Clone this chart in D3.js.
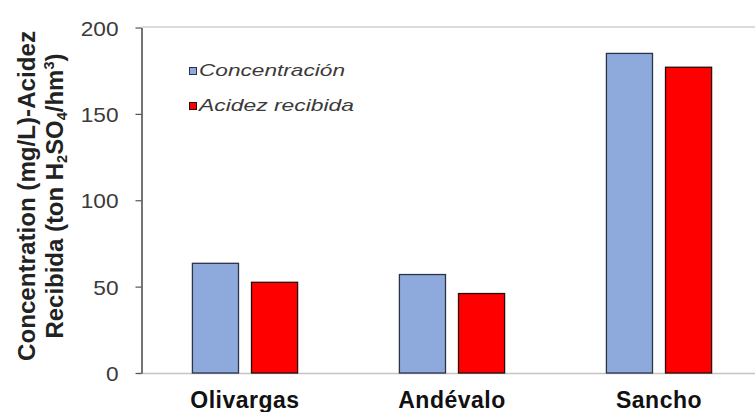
<!DOCTYPE html>
<html>
<head>
<meta charset="utf-8">
<script src="https://cdn.jsdelivr.net/npm/d3@7"></script>
<style>
  html, body { margin: 0; padding: 0; background: #fff; }
  svg { display: block; }
</style>
</head>
<body>
<svg id="chart" width="755" height="412"></svg>
<script>
// ---- data ----
const categories = ["Olivargas", "Andévalo", "Sancho"];
const seriesNames = ["Concentración", "Acidez recibida"];
const concentracion = [63.5, 57, 185];
const acidez = [52.5, 46, 177];
const yTicks = [0, 50, 100, 150, 200];
const yTitle1 = "Concentration (mg/L)-Acidez";

(function () {
// ---- layout ----
const W = 755, H = 412;
const mLeft = 141.5, mTop = 27.5, mBottom = 373, rightExt = 762.5;
const colors = ["#8EA9DB", "#FF0000"];
const strokes = ["#2b3445", "#2a0a0a"];

const svg = d3.select("#chart");

const y = d3.scaleLinear().domain([0, 200]).range([mBottom, mTop]);
const x0 = d3.scaleBand().domain(categories).range([mLeft, rightExt])
  .paddingInner(0.487).paddingOuter(0.2435);
const x1 = d3.scaleBand().domain(seriesNames).range([0, x0.bandwidth()])
  .paddingInner(0.203).paddingOuter(0);

// top border and bottom axis line (light grey)
svg.append("line").attr("x1", mLeft).attr("x2", W).attr("y1", mTop - 0.5).attr("y2", mTop - 0.5)
  .attr("stroke", "#cfcfcf").attr("stroke-width", 1.5);
svg.append("line").attr("x1", mLeft - 4).attr("x2", W).attr("y1", mBottom + 0.5).attr("y2", mBottom + 0.5)
  .attr("stroke", "#c4c4c4").attr("stroke-width", 1.5);

// bars
const series = [concentracion, acidez];
const groups = svg.append("g").selectAll("g").data(categories).join("g")
  .attr("transform", d => `translate(${x0(d)},0)`);
groups.selectAll("rect")
  .data((d, i) => seriesNames.map((s, k) => ({ s, k, v: series[k][i] })))
  .join("rect")
  .attr("x", d => x1(d.s) + 0.5)
  .attr("width", x1.bandwidth() - 1)
  .attr("y", d => y(d.v))
  .attr("height", d => y(0) - y(d.v))
  .attr("fill", d => colors[d.k])
  .attr("stroke", d => strokes[d.k])
  .attr("stroke-width", 1.3);

// y axis
const yAxis = svg.append("g").attr("transform", `translate(${mLeft},0)`)
  .call(d3.axisLeft(y).tickValues(yTicks).tickSize(6).tickSizeOuter(0).tickPadding(17));
yAxis.select(".domain").attr("stroke", "#444").attr("stroke-width", 1.5);
yAxis.selectAll(".tick line").attr("stroke", "#555").attr("stroke-width", 1.2);
yAxis.selectAll(".tick text")
  .attr("font-family", "'Liberation Sans', Arial, sans-serif")
  .attr("font-size", 21)
  .attr("fill", "#3a3a3a")
  .attr("dy", "0.36em")
  .each(function(d) {
    const n = String(d).length;
    d3.select(this).attr("textLength", n * 12.6).attr("lengthAdjust", "spacingAndGlyphs");
  });

// x category labels
svg.append("g").selectAll("text").data(categories).join("text")
  .attr("x", d => x0(d) + x0.bandwidth() / 2)
  .attr("y", 408)
  .attr("text-anchor", "middle")
  .attr("font-family", "'Liberation Sans', Arial, sans-serif")
  .attr("font-weight", "bold")
  .attr("font-size", 23)
  .attr("letter-spacing", 0.5)
  .attr("fill", "#111")
  .text(d => d);

// legend
const legendRows = [76, 111];
const legendLens = [146, 155];
const leg = svg.append("g");
seriesNames.forEach((s, k) => {
  leg.append("rect")
    .attr("x", 189.5).attr("y", legendRows[k] - 8.5)
    .attr("width", 7).attr("height", 7)
    .attr("fill", colors[k]).attr("stroke", strokes[k]).attr("stroke-width", 1);
  leg.append("text")
    .attr("x", 199).attr("y", legendRows[k])
    .attr("font-family", "'Liberation Sans', Arial, sans-serif")
    .attr("font-style", "italic")
    .attr("font-size", 16.5)
    .attr("fill", "#3a3a3a")
    .attr("textLength", legendLens[k])
    .attr("lengthAdjust", "spacingAndGlyphs")
    .text(s);
});

// y title (two lines, rotated)
const cy = 196;
svg.append("text")
  .attr("transform", `translate(35,${cy}) rotate(-90)`)
  .attr("text-anchor", "middle")
  .attr("font-family", "'Liberation Sans', Arial, sans-serif")
  .attr("font-weight", "bold")
  .attr("font-size", 23)
  .attr("fill", "#222")
  .attr("textLength", 330)
  .attr("lengthAdjust", "spacingAndGlyphs")
  .text(yTitle1);

const t2 = svg.append("text")
  .attr("transform", `translate(63,${cy}) rotate(-90)`)
  .attr("text-anchor", "middle")
  .attr("font-family", "'Liberation Sans', Arial, sans-serif")
  .attr("font-weight", "bold")
  .attr("font-size", 23)
  .attr("fill", "#222")
  .attr("textLength", 285)
  .attr("lengthAdjust", "spacingAndGlyphs");
t2.append("tspan").text("Recibida (ton H");
t2.append("tspan").attr("font-size", 14).attr("dy", 4).text("2");
t2.append("tspan").attr("dy", -4).text("SO");
t2.append("tspan").attr("font-size", 14).attr("dy", 4).text("4");
t2.append("tspan").attr("dy", -4).text("/hm");
t2.append("tspan").attr("font-size", 14).attr("dy", -9).text("3");
t2.append("tspan").attr("dy", 9).text(")");
})();
</script>
</body>
</html>
